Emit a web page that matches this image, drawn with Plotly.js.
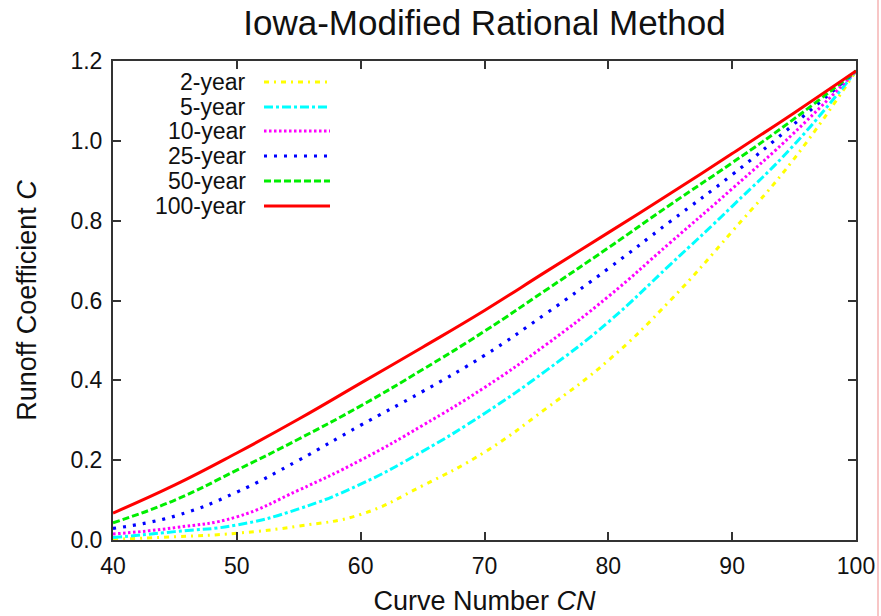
<!DOCTYPE html>
<html>
<head>
<meta charset="utf-8">
<script src="https://cdn.plot.ly/plotly-3.0.1.min.js"></script>
<style>html,body{margin:0;padding:0;background:#fff;}#chart{width:881px;height:616px;}</style>
</head>
<body>
<div id="chart"></div>
<script>
// Curve Number values
var cn = [40, 45, 50, 55, 60, 65, 70, 75, 80, 85, 90, 95, 100];
// Runoff coefficient per return period
var c2   = [0.002, 0.008, 0.017, 0.035, 0.064, 0.136, 0.22, 0.33, 0.45, 0.60, 0.773, 0.955, 1.175];
var c5   = [0.006, 0.021, 0.0375, 0.078, 0.14, 0.222, 0.317, 0.425, 0.546, 0.69, 0.836, 0.99, 1.175];
var c10  = [0.015, 0.031, 0.058, 0.125, 0.20, 0.287, 0.382, 0.49, 0.61, 0.745, 0.88, 1.02, 1.175];
var c25  = [0.029, 0.06, 0.12, 0.20, 0.2875, 0.372, 0.4625, 0.568, 0.68, 0.798, 0.915, 1.042, 1.175];
var c50  = [0.043, 0.10, 0.175, 0.253, 0.336, 0.427, 0.523, 0.627, 0.732, 0.84, 0.945, 1.055, 1.175];
var c100 = [0.0675, 0.138, 0.218, 0.303, 0.393, 0.483, 0.575, 0.673, 0.77, 0.868, 0.968, 1.07, 1.175];

var seriesNames = ["2-year", "5-year", "10-year", "25-year", "50-year", "100-year"];
var seriesData = [c2, c5, c10, c25, c50, c100];
var colors = ["#ffff00", "#00ffff", "#ff00ff", "#0000ff", "#00ee00", "#ff0000"];
var dashes = ["5px,5px,2px,5px", "9px,3px,3px,3px", "2.5px,2.5px", "3px,7px", "7px,3px", "solid"];
var widths = [3, 3, 3, 3.2, 3, 3];

var xTicks = [40, 50, 60, 70, 80, 90, 100];
var yTicks = [0.0, 0.2, 0.4, 0.6, 0.8, 1.0, 1.2];

var traces = seriesData.map(function (ys, i) {
  return {
    x: cn, y: ys, name: seriesNames[i], type: "scatter", mode: "lines",
    line: {color: colors[i], dash: dashes[i], width: widths[i], shape: "spline", smoothing: 1.3},
    showlegend: false, hoverinfo: "skip"
  };
});

// custom legend (text left of sample, as in reference)
var L = 113, R = 856, T = 61, B = 540;
function px2x(p) { return (p - L) / (R - L); }
function py2y(p) { return (B - p) / (B - T); }
var legendY = [82, 107, 131, 156, 181, 206];
var annotations = [];
var shapes = [];
seriesNames.forEach(function (n, i) {
  annotations.push({
    xref: "paper", yref: "paper", x: px2x(247), y: py2y(legendY[i]),
    xanchor: "right", yanchor: "middle", text: n, showarrow: false, borderpad: 0,
    font: {family: "Liberation Sans, Arial, sans-serif", size: 23, color: "#111"}
  });
  shapes.push({
    type: "line", xref: "paper", yref: "paper",
    x0: px2x(264), x1: px2x(330), y0: py2y(legendY[i]), y1: py2y(legendY[i]),
    line: {color: colors[i], dash: dashes[i], width: widths[i]}
  });
});
// thin red page edge line at right
shapes.push({
  type: "line", xref: "paper", yref: "paper",
  x0: px2x(878), x1: px2x(878), y0: py2y(0), y1: py2y(616),
  line: {color: "#f4a0a0", width: 1.2}
});

var axisCommon = {
  showgrid: false, zeroline: false, showline: true, linecolor: "#333", linewidth: 2,
  mirror: "ticks", ticks: "inside", ticklen: 8, tickwidth: 2, tickcolor: "#333",
  tickfont: {family: "Liberation Sans, Arial, sans-serif", size: 23, color: "#111"}
};

var layout = {
  width: 881, height: 616,
  margin: {l: L, r: 881 - R, t: T, b: 616 - B, pad: 0},
  paper_bgcolor: "#fff", plot_bgcolor: "#fff",
  title: {
    text: "Iowa-Modified Rational Method",
    font: {family: "Liberation Sans, Arial, sans-serif", size: 35, color: "#111"},
    x: 0.5, xref: "paper", y: 1 - 23 / 616, yref: "container", yanchor: "middle"
  },
  xaxis: Object.assign({}, axisCommon, {
    range: [40, 100], tickvals: xTicks, ticktext: xTicks.map(String), ticklabelstandoff: 4,
    title: {text: "Curve Number <i>CN</i>", standoff: 16,
      font: {family: "Liberation Sans, Arial, sans-serif", size: 27, color: "#111"}}
  }),
  yaxis: Object.assign({}, axisCommon, {
    range: [0, 1.2], tickvals: yTicks, ticktext: yTicks.map(function (v) { return v.toFixed(1); }),
    ticklabelstandoff: 4,
    title: {text: "Runoff Coefficient <i>C</i>", standoff: 26,
      font: {family: "Liberation Sans, Arial, sans-serif", size: 27, color: "#111"}}
  }),
  annotations: annotations,
  shapes: shapes
};

Plotly.newPlot("chart", traces, layout, {staticPlot: true, displayModeBar: false});
</script>
</body>
</html>
